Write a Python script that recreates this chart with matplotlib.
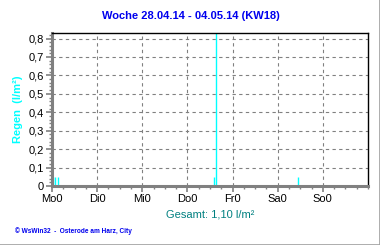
import matplotlib.pyplot as plt
from matplotlib.ticker import MultipleLocator
from matplotlib.lines import Line2D

plt.rcParams['font.family'] = ['Liberation Sans', 'DejaVu Sans']

# rain events: position in days from Monday 0:00, amount in l/m²
rain_pos = [0.02, 0.07, 0.13, 3.58, 3.63, 5.46]
rain_val = [0.05, 0.05, 0.05, 0.05, 0.85, 0.05]
day_labels = ["Mo0", "Di0", "Mi0", "Do0", "Fr0", "Sa0", "So0"]
y_ticks = [0, 0.1, 0.2, 0.3, 0.4, 0.5, 0.6, 0.7, 0.8]
total = 1.10

fig = plt.figure(figsize=(3.8, 2.45), dpi=100)
ax = fig.add_axes([52/380, 1-186/245, 316/380, 153/245])

ax.vlines(rain_pos, 0, rain_val, colors="#00ffff", linewidth=1.0)

ax.set_xlim(0, 7)
ax.set_ylim(0, 0.83)
ax.set_xticks(range(len(day_labels)))
ax.set_xticklabels(day_labels)
ax.xaxis.set_minor_locator(MultipleLocator(0.25))
ax.set_yticks(y_ticks)
ax.set_yticklabels([("%.1f" % v).replace(".", ",") if v else "0" for v in y_ticks])
ax.yaxis.set_minor_locator(MultipleLocator(0.02))

ax.grid(True, which="major", color="#808080", linestyle=(0, (3, 3)), linewidth=0.8)
ax.set_axisbelow(True)

for s in ["left", "bottom"]:
    ax.spines[s].set_color("#808080")
    ax.spines[s].set_linewidth(2.2)
for s in ["top", "right"]:
    ax.spines[s].set_color("black")
    ax.spines[s].set_linewidth(1.0)

ax.tick_params(axis="both", which="major", colors="#808080", labelcolor="black",
               labelsize=8, length=4, width=1.2, pad=2)
ax.tick_params(axis="both", which="minor", colors="#808080", length=2, width=1)

ax.set_ylabel("Regen  (l/m²)", color="#00ffff", fontsize=8, fontweight="bold")
ax.yaxis.set_label_coords(-0.092, 0.5)

fig.text(0.503, 0.935, "Woche 28.04.14 - 04.05.14 (KW18)", color="#0000ee",
         fontsize=8, fontweight="bold", ha="center", va="center")
fig.text(210/380, 1-214/245, "Gesamt: %s l/m²" % ("%.2f" % total).replace(".", ","),
         color="#008080", fontsize=8, ha="center", va="center")
fig.text(15/380, 1-231/245, "© WsWin32  -  Osterode am Harz, City", color="#0000ee",
         fontsize=4.7, fontweight="bold", ha="left", va="center")

# grey frame at right and bottom
fig.add_artist(Line2D([0, 379.5/380], [0.5/245, 0.5/245], color="#a0a0a0", lw=1.2, transform=fig.transFigure))
fig.add_artist(Line2D([379.5/380, 379.5/380], [0, 1], color="#a0a0a0", lw=1.2, transform=fig.transFigure))

fig.savefig("out.png", dpi=100)
